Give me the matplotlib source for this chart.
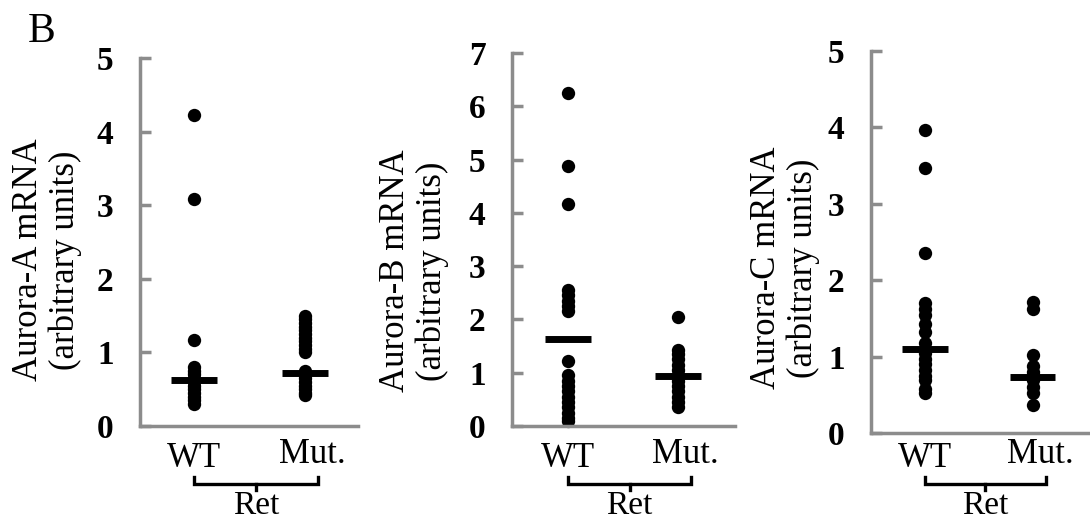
"""Aurora-A/B/C mRNA levels in Ret WT vs Mut. tumours (panel B)."""

import matplotlib
matplotlib.use("Agg")
import matplotlib.pyplot as plt
import matplotlib.transforms as mtransforms

plt.rcParams["font.family"] = ["Liberation Serif", "DejaVu Serif"]

# ---------------------------------------------------------------- data
groups = ["WT", "Mut."]
ylabels = ["Aurora-A mRNA\n(arbitrary units)",
           "Aurora-B mRNA\n(arbitrary units)",
           "Aurora-C mRNA\n(arbitrary units)"]
ymax = [5, 7, 5]

a_wt = [4.22, 3.08, 1.17, 0.80, 0.75, 0.70, 0.65, 0.60, 0.55, 0.50, 0.45, 0.40, 0.35, 0.30]
a_mut = [1.50, 1.45, 1.40, 1.35, 1.30, 1.25, 1.20, 1.15, 1.10, 1.05, 1.00,
         0.75, 0.70, 0.65, 0.60, 0.55, 0.50, 0.45, 0.42]
a_mean = [0.63, 0.72]

b_wt = [6.25, 4.88, 4.17, 2.55, 2.45, 2.35, 2.25, 2.15, 1.22, 0.96, 0.85, 0.75,
        0.65, 0.55, 0.45, 0.35, 0.25, 0.15, 0.10]
b_mut = [2.05, 1.42, 1.35, 1.25, 1.15, 1.05, 0.95, 0.85, 0.75, 0.65, 0.55, 0.45, 0.35]
b_mean = [1.63, 0.94]

c_wt = [3.97, 3.47, 2.35, 1.70, 1.62, 1.54, 1.43, 1.32, 1.18, 1.05, 0.97, 0.90,
        0.82, 0.75, 0.69, 0.58, 0.52]
c_mut = [1.71, 1.62, 1.02, 0.88, 0.80, 0.70, 0.60, 0.52, 0.37]
c_mean = [1.10, 0.73]

panels = [(a_wt, a_mut, a_mean), (b_wt, b_mut, b_mean), (c_wt, c_mut, c_mean)]

# ---------------------------------------------------------------- layout (pixels)
W, H = 1090, 521
# left, right, top, bottom of each axes box, plus x-limits in data units
boxes = [(140, 358, 58, 426, (0.514, 2.477)),
         (512, 735, 53, 426, (0.49, 2.52)),
         (871, 1090, 51, 433, (0.50, 2.53))]
label_pos = [(47, 260), (414, 271), (785, 268)]

GREY = "#8c8c8c"

fig = plt.figure(figsize=(W / 100, H / 100), dpi=100)


def fy(py):
    return 1 - py / H


for (wt, mut, means), (l, r, t, b, xl), ymx, ylab, (lx, ly) in zip(
        panels, boxes, ymax, ylabels, label_pos):
    ax = fig.add_axes([l / W, 1 - b / H, (r - l) / W, (b - t) / H])
    ax.plot([1] * len(wt), wt, "o", color="black", ms=9.6, mec="black", mew=0, clip_on=False)
    ax.plot([2] * len(mut), mut, "o", color="black", ms=9.6, mec="black", mew=0, clip_on=False)
    for x, m in zip([1, 2], means):
        ax.plot([x - 0.21, x + 0.21], [m, m], color="black", lw=5, solid_capstyle="butt")

    ax.set_xlim(*xl)
    ax.set_ylim(0, ymx)
    ax.set_yticks(range(0, ymx + 1))
    ax.set_xticks([])
    for s in ["top", "right"]:
        ax.spines[s].set_visible(False)
    for s in ["left", "bottom"]:
        ax.spines[s].set_color(GREY)
        ax.spines[s].set_linewidth(2.5)
    ax.tick_params(axis="y", direction="in", length=8, width=2.5, color=GREY,
                   pad=19, labelsize=24)
    for lab in ax.get_yticklabels():
        lab.set_fontweight("bold")

    # group labels, bracket and "Ret"
    tr = mtransforms.blended_transform_factory(ax.transData, fig.transFigure)
    ax.text(1, fy(467), groups[0], transform=tr, ha="center", va="baseline", fontsize=25)
    ax.text(2.07, fy(463), groups[1], transform=tr, ha="center", va="baseline", fontsize=25)
    x0, x1 = 1.0, 2.12
    xc = (x0 + x1) / 2
    ax.plot([x0, x0, x1, x1], [fy(477), fy(484), fy(484), fy(477)], transform=tr,
            color="black", lw=2.4, clip_on=False, solid_joinstyle="miter")
    ax.plot([xc, xc], [fy(484), fy(490)], transform=tr, color="black", lw=2.4, clip_on=False)
    ax.text(xc, fy(514), "Ret", transform=tr, ha="center", va="baseline", fontsize=24)

    fig.text(lx / W, fy(ly), ylab, rotation=90, ha="center", va="center",
             multialignment="center", fontsize=25, linespacing=1.1)

fig.text(28 / W, fy(42), "B", fontsize=30, ha="left", va="baseline")

fig.savefig("out.png", dpi=100)
